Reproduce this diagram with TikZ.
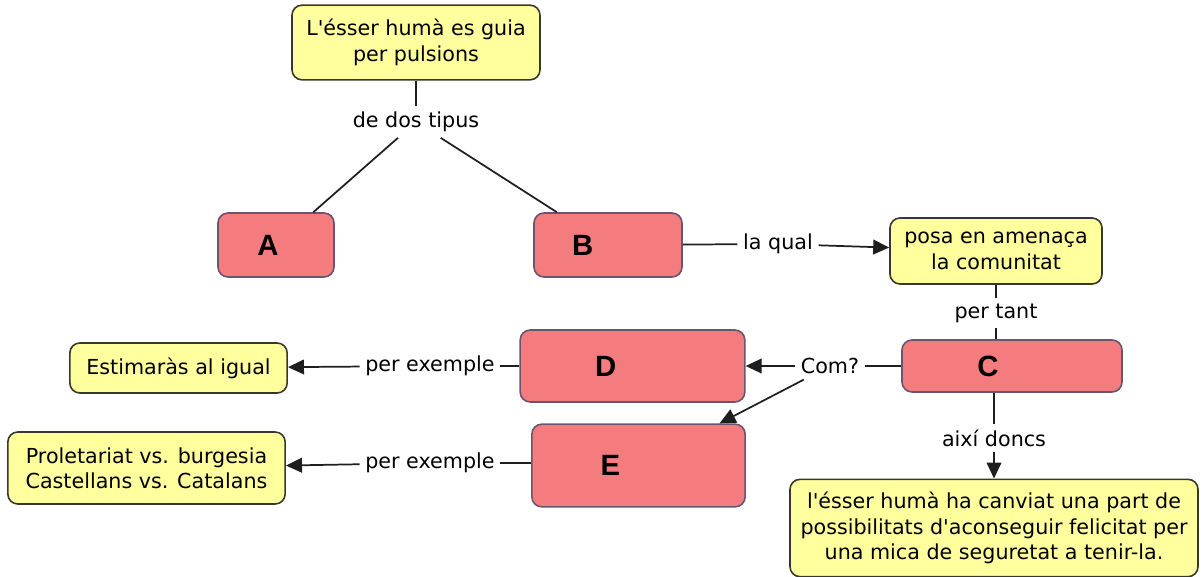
\documentclass[tikz,border=0pt]{standalone}
\usepackage{fontspec}
\setmainfont{DejaVu Sans}
\newfontfamily\letterfont{Liberation Sans}
\usetikzlibrary{arrows.meta}
\definecolor{conceptyellow}{RGB}{255,255,158}
\definecolor{conceptred}{RGB}{244,124,126}
\definecolor{yellowedge}{RGB}{55,55,45}
\definecolor{rededge}{RGB}{105,85,110}
\definecolor{linkgray}{RGB}{30,30,30}
\tikzset{every picture/.style={line width=0.75pt}}
\tikzset{
  yellowbox/.style={draw=yellowedge, fill=conceptyellow, rounded corners=7.5pt, line width=1.2pt, align=center, inner sep=0pt, font=\fontsize{15.5}{19}\selectfont},
  redbox/.style={draw=rededge, fill=conceptred, rounded corners=7.5pt, line width=1.2pt, inner sep=0pt},
  letter/.style={font=\letterfont\bfseries\fontsize{22}{24}\selectfont, inner sep=0pt},
  linkword/.style={inner sep=4pt, font=\fontsize{15.5}{19}\selectfont},
  link/.style={draw=linkgray, line width=1.3pt},
  linkto/.style={link, -{Triangle[length=12pt,width=11pt]}}
}

\begin{document}
\begin{tikzpicture}[x=0.75pt,y=0.75pt,yscale=-1]
  \useasboundingbox (0,0) rectangle (1203,577);
  \node (pulsions) [yellowbox, minimum width=186pt, minimum height=56pt] at (416,42.5) {L\textquotesingle ésser humà es guia\\per pulsions};
  \node (A) [redbox, minimum width=87pt, minimum height=48pt, label={[letter, xshift=-6pt]center:A}] at (276,245) {};
  \node (B) [redbox, minimum width=111pt, minimum height=48pt, label={[letter, xshift=-19pt]center:B}] at (608,245) {};
  \node (amenaca) [yellowbox, minimum width=159pt, minimum height=49.5pt] at (996,251) {posa en amenaça\\la comunitat};
  \node (C) [redbox, minimum width=165pt, minimum height=39pt, label={[letter, xshift=-18pt]center:C}] at (1012,366) {};
  \node (D) [redbox, minimum width=168.5pt, minimum height=54pt, label={[letter, xshift=-20pt]center:D}] at (632.5,366) {};
  \node (E) [redbox, minimum width=160pt, minimum height=62pt, label={[letter, xshift=-21pt]center:E}] at (638.5,465.5) {};
  \node (estimaras) [yellowbox, minimum width=163pt, minimum height=37.5pt] at (178.5,368) {Estimaràs al igual};
  \node (proletariat) [yellowbox, minimum width=208pt, minimum height=54pt] at (146.5,468) {Proletariat vs. burgesia\\Castellans vs. Catalans};
  \node (felicitat) [yellowbox, minimum width=306pt, minimum height=73pt] at (994,528) {l\textquotesingle ésser humà ha canviat una part de\\possibilitats d\textquotesingle aconseguir felicitat per\\una mica de seguretat a tenir-la.};

  \node (dedos) [linkword] at (416,122) {de dos tipus};
  \node (laqual) [linkword] at (778,244) {la qual};
  \node (pertant) [linkword] at (996,313) {per tant};
  \node (com) [linkword] at (830,366) {Com?};
  \node (exemple1) [linkword] at (430,366) {per exemple};
  \node (exemple2) [linkword] at (430,463) {per exemple};
  \node (aixi) [linkword] at (994,438) {així doncs};

  \draw [link] (pulsions) -- (dedos);
  \draw [link] (dedos) -- (A);
  \draw [link] (dedos) -- (B);
  \draw [link] (B) -- (laqual);
  \draw [linkto] (laqual) -- (amenaca);
  \draw [link] (amenaca) -- (pertant);
  \draw [link] (pertant.south) -- (pertant.south |- C.north);
  \draw [link] (C) -- (com);
  \draw [linkto] (com) -- (D);
  \draw [linkto] (com) -- (E);
  \draw [link] (D) -- (exemple1);
  \draw [linkto] (exemple1) -- (estimaras);
  \draw [link] (E.west |- exemple2) -- (exemple2);
  \draw [linkto] (exemple2) -- (proletariat);
  \draw [link] (C.south -| aixi) -- (aixi);
  \draw [linkto] (aixi) -- (felicitat);
\end{tikzpicture}
\end{document}
